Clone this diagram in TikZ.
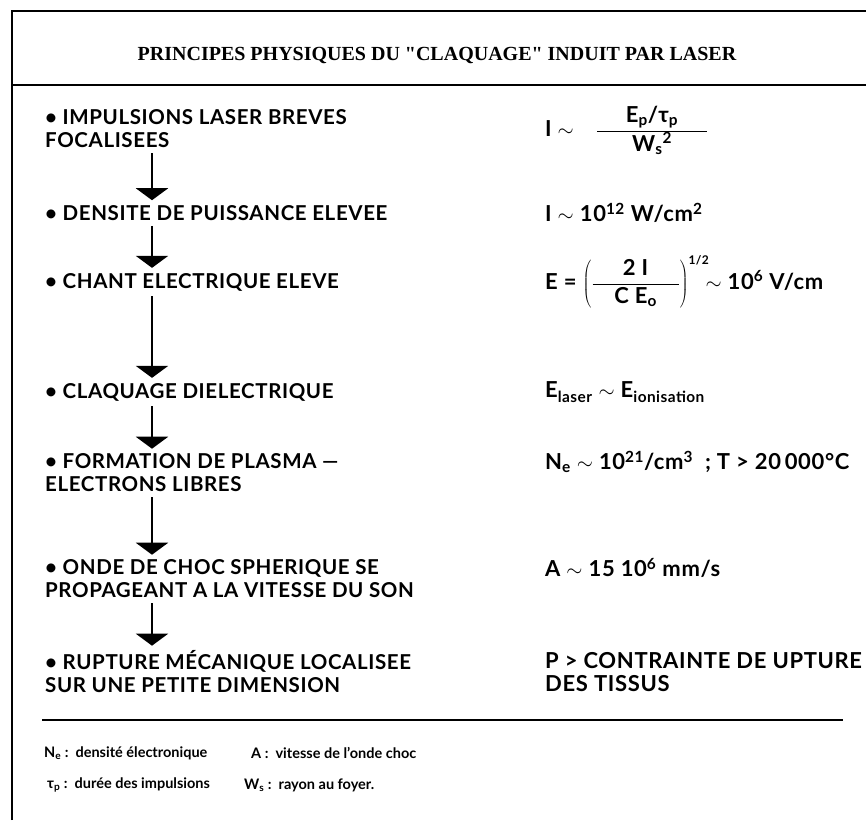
\documentclass[tikz,border=0pt]{standalone}
\usepackage{fontspec}
\setmainfont{Lato}
\newfontfamily\stagefont{Lato}[LetterSpace=3]
\newfontfamily\titlefont{Liberation Serif}
\usetikzlibrary{arrows.meta, positioning}

\begin{document}
\begin{tikzpicture}[
        x=1pt, y=-1pt,
        stage/.style={anchor=west, align=left, inner sep=2pt, font=\stagefont\fontsize{20.5}{23}\selectfont\bfseries},
        value/.style={anchor=west, align=left, inner sep=2pt, font=\stagefont\fontsize{22}{23}\selectfont\bfseries},
        legend/.style={anchor=west, inner sep=1pt, font=\fontsize{14.5}{16}\selectfont\bfseries},
        arrow/.style={-{Triangle[width=32pt, length=12pt]}, line width=2.4pt, shorten <=3pt, shorten >=3pt},
        frame/.style={line width=2.8pt}
    ]
        \useasboundingbox (0,0) rectangle (866,820);
        % frame and rules
        \draw[frame] (12,820) -- (12,11) -- (866,11);
        \draw[frame] (12,85) -- (866,85);
        \draw[frame] (42,720) -- (843,720);

        \node[font=\titlefont\bfseries\fontsize{20}{22}\selectfont] (title) at (437,55) {PRINCIPES PHYSIQUES DU "CLAQUAGE" INDUIT PAR LASER};

        % left column
        \coordinate (axis) at (152,0);
        \node[stage] (impuls) at (43,129) {• IMPULSIONS LASER BREVES\\FOCALISEES};
        \node[stage] (densite) at (43,213) {• DENSITE DE PUISSANCE ELEVEE};
        \node[stage] (champ) at (43,282) {• CHANT ELECTRIQUE ELEVE};
        \node[stage] (claquage) at (43,392) {• CLAQUAGE DIELECTRIQUE};
        \node[stage] (plasma) at (43,473) {• FORMATION DE PLASMA —\\ELECTRONS LIBRES};
        \node[stage] (onde) at (43,579) {• ONDE DE CHOC SPHERIQUE SE\\PROPAGEANT A LA VITESSE DU SON};
        \node[stage] (rupture) at (43,672) {• RUPTURE MÉCANIQUE LOCALISEE\\SUR UNE PETITE DIMENSION};

        \draw[arrow] (impuls.south -| axis) -- (densite.north -| axis);
        \draw[arrow] (densite.south -| axis) -- (champ.north -| axis);
        \draw[arrow] (champ.south -| axis) -- (claquage.north -| axis);
        \draw[arrow] (claquage.south -| axis) -- (plasma.north -| axis);
        \draw[arrow] (plasma.south -| axis) -- (onde.north -| axis);
        \draw[arrow] (onde.south -| axis) -- (rupture.north -| axis);

        % right column
        \node[value] (intens) at (543,130) {I $\sim$\quad$\displaystyle\frac{\makebox[110pt]{E\textsubscript{p}/τ\textsubscript{p}}}{\mbox{W\textsubscript{s}\textsuperscript{2}}}$};
        \node[value] (puiss) at (543,213) {I $\sim$ 10\textsuperscript{12} W/cm\textsuperscript{2}};
        \node[value] (field) at (543,282) {E = $\displaystyle\left(\frac{\makebox[86pt]{2 I}}{\mbox{C E\textsubscript{o}}}\right)^{\mbox{\fontsize{12}{13}\selectfont 1/2}}$\!$\sim$ 10\textsuperscript{6} V/cm};
        \node[value] (ionis) at (543,392) {E\textsubscript{laser} $\sim$ E\textsubscript{ionisation}};
        \node[value] (dens) at (543,462) {N\textsubscript{e} $\sim$ 10\textsuperscript{21}/cm\textsuperscript{3}\ \ ; T > 20\,000°C};
        \node[value] (speed) at (543,568) {A $\sim$ 15 10\textsuperscript{6} mm/s};
        \node[value] (press) at (543,672) {P > CONTRAINTE DE UPTURE\\DES TISSUS};

        % legend
        \node[legend] (ne) at (43,753) {N\textsubscript{e} :\ \ densité électronique};
        \node[legend] (tau) at (46,785) {τ\textsubscript{p} :\ \ durée des impulsions};
        \node[legend] (wave) at (250,753) {A :\ \ vitesse de l'onde choc};
        \node[legend] (radius) at (243,785) {W\textsubscript{s} :\ \ rayon au foyer.};
    \end{tikzpicture}
\end{document}
